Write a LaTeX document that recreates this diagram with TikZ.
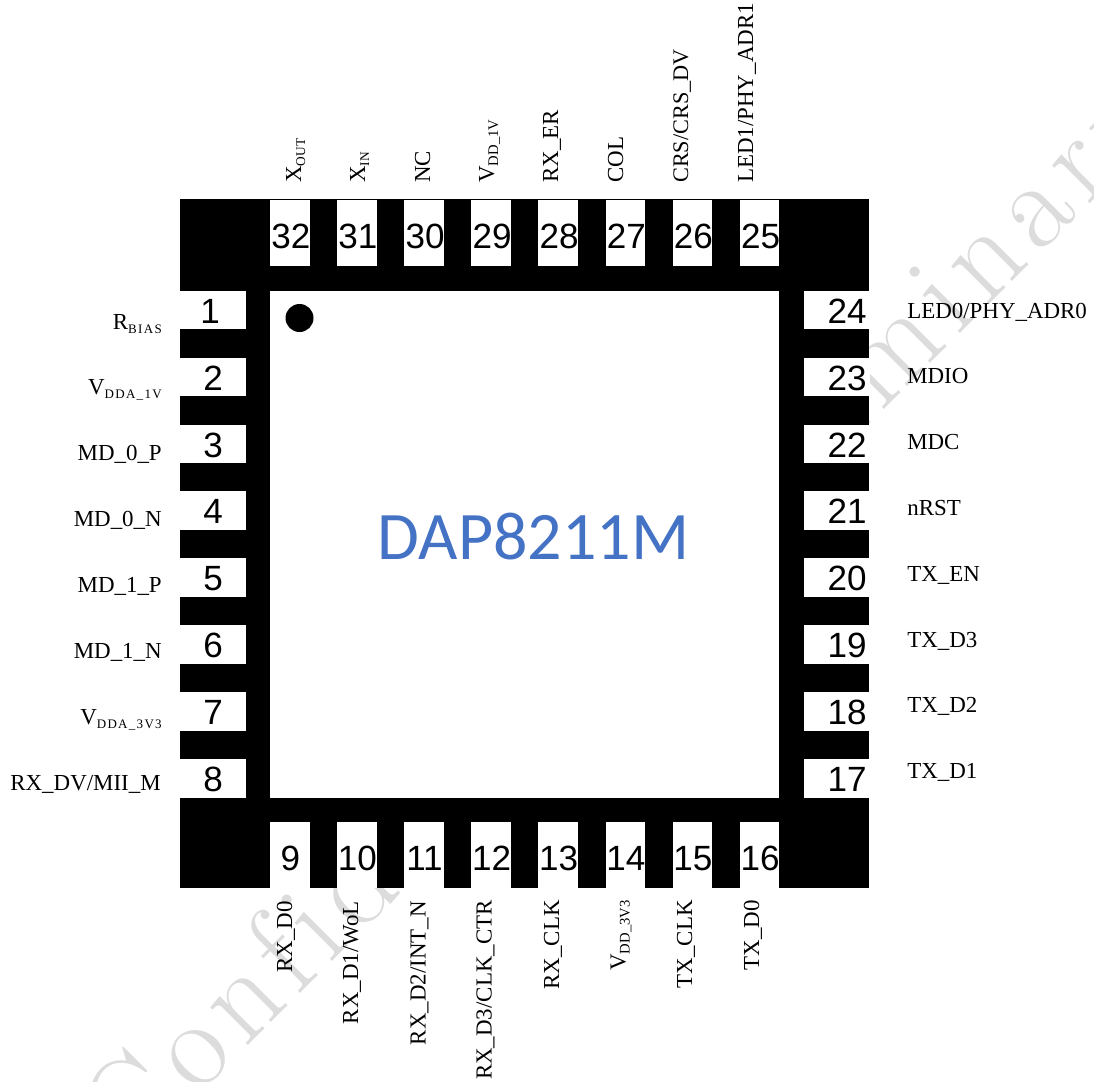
\documentclass[tikz,border=0pt]{standalone}
\usepackage{fontspec}
\setmainfont{Liberation Serif}
\newfontfamily\pinfont{Liberation Sans}
\newfontfamily\chipfont{Carlito}
\newfontfamily\wmfont[LetterSpace=8.4,Ligatures=NoCommon]{lmroman17-regular.otf}
\newfontfamily\subfont[LetterSpace=10]{Liberation Serif}
% subscripts
\newcommand{\subA}[1]{\raisebox{-3pt}{\fontsize{9.75}{11}\subfont #1}}
\newcommand{\subB}[1]{\raisebox{-3pt}{\fontsize{10}{11}\selectfont #1}}
\newcommand{\subC}[1]{\raisebox{-3pt}{\fontsize{11}{12}\selectfont #1}}
\tikzset{
  body/.style={rectangle,fill=black,inner sep=0pt,minimum width=516.75pt,minimum height=516.4pt},
  core/.style={rectangle,fill=white,inner sep=0pt,minimum width=381.75pt,minimum height=380.25pt},
  pinv/.style={rectangle,fill=white,inner sep=0pt,minimum width=29.6pt,minimum height=49.5pt},
  pinh/.style={rectangle,fill=white,inner sep=0pt,minimum width=49.5pt,minimum height=29pt},
  num/.style={inner sep=0pt,text=black,font=\pinfont\fontsize{26.3}{30}\selectfont,text height=18.4pt,text depth=0pt},
  lab/.style={inner sep=0pt,text=black,font=\fontsize{17.2}{20}\selectfont},
  labl/.style={lab,anchor=base east},
  labr/.style={lab,anchor=base west},
  labt/.style={lab,rotate=90,anchor=base west},
  labb/.style={lab,rotate=90,anchor=base east},
  mark1/.style={circle,fill=black,inner sep=0pt,minimum size=21pt},
  chipname/.style={inner sep=0pt,text={rgb,255:red,68;green,114;blue,196},font=\chipfont\fontsize{51}{60}\selectfont,anchor=base},
  wm/.style={inner sep=0pt,text={rgb,255:red,220;green,220;blue,220},font=\wmfont\fontsize{93.75}{100}\selectfont,rotate=45,anchor=base west}
}
\begin{document}
\begin{tikzpicture}[x=0.75pt,y=-0.75pt]
\useasboundingbox (0,0) rectangle (1094,1081);
\begin{scope}
  \clip (0,0) rectangle (1094,1081);
  \node[wm] (watermark) at (130.5,1163.5) {Confidential Preliminary};
\end{scope}
\node[body] (chip) at (524.5,543.7) {};
\node[core] (die) at (524.5,544.5) {};
\node[mark1] (dot) at (299.5,318) {};
\node[chipname] (name) at (533.5,559.5) {DAP8211M};
% pins
\foreach \n [count=\k from 0] in {32,31,30,29,28,27,26,25}{
  \node[pinv] (pin\n) at ({289.8+67.1*\k},233) {};
  \node[num] (num\n) at ({290.8+67.1*\k},236) {\n};
}
\foreach \n [count=\k from 0] in {9,10,11,12,13,14,15,16}{
  \node[pinv] (pin\n) at ({289.8+67.1*\k},855) {};
  \node[num] (num\n) at ({290.3+67.1*\k},858) {\n};
}
\foreach \n [count=\k from 0] in {1,2,3,4,5,6,7,8}{
  \node[pinh] (pin\n) at (213,{310+66.93*\k}) {};
  \node[num] (num\n) at ({\n==1 ? 210 : 213},{311+66.9*\k}) {\n};
}
\foreach \n [count=\k from 0] in {24,23,22,21,20,19,18,17}{
  \node[pinh] (pin\n) at (836.5,{310+66.93*\k}) {};
  \node[num] (num\n) at (847,{311+66.9*\k}) {\n};
}
% left labels
\node[labl] (l1) at (162,329) {R\subA{BIAS}};
\node[labl] (l2) at (162,394) {V\subA{DDA\_1V}};
\node[labl] (l3) at (162,460) {MD\_0\_P};
\node[labl] (l4) at (162,526) {MD\_0\_N};
\node[labl] (l5) at (162,592) {MD\_1\_P};
\node[labl] (l6) at (162,658) {MD\_1\_N};
\node[labl] (l7) at (162,724) {V\subA{DDA\_3V3}};
\node[labl] (l8) at (161,790) {RX\_DV/MII\_M};
% right labels
\node[labr] (r24) at (907,318) {LED0/PHY\_ADR0};
\node[labr] (r23) at (907,383) {MDIO};
\node[labr] (r22) at (907,449) {MDC};
\node[labr] (r21) at (907,515) {nRST};
\node[labr] (r20) at (907,581) {TX\_EN};
\node[labr] (r19) at (907,647) {TX\_D3};
\node[labr] (r18) at (907,712) {TX\_D2};
\node[labr] (r17) at (907,778) {TX\_D1};
% top labels
\node[labt] (t32) at (301,183) {X\subB{OUT}};
\node[labt] (t31) at (365,183) {X\subB{IN}};
\node[labt] (t30) at (430,183) {NC};
\node[labt] (t29) at (494,183) {V\subC{DD\_1V}};
\node[labt] (t28) at (558,183) {RX\_ER};
\node[labt] (t27) at (623,183) {COL};
\node[labt,font=\fontsize{16.7}{20}\selectfont] (t26) at (688,183) {CRS/CRS\_DV};
\node[labt] (t25) at (753,183) {LED1/PHY\_ADR1};
% bottom labels
\node[labb] (b9) at (292,901) {RX\_D0};
\node[labb] (b10) at (358,901) {RX\_D1/WoL};
\node[labb] (b11) at (425.7,901) {RX\_D2/INT\_N};
\node[labb] (b12) at (491.7,900) {RX\_D3/CLK\_CTR};
\node[labb] (b13) at (559,900) {RX\_CLK};
\node[labb] (b14) at (625.7,900) {V\subC{DD\_3V3}};
\node[labb] (b15) at (692,900) {TX\_CLK};
\node[labb] (b16) at (759,900) {TX\_D0};
\end{tikzpicture}
\end{document}
